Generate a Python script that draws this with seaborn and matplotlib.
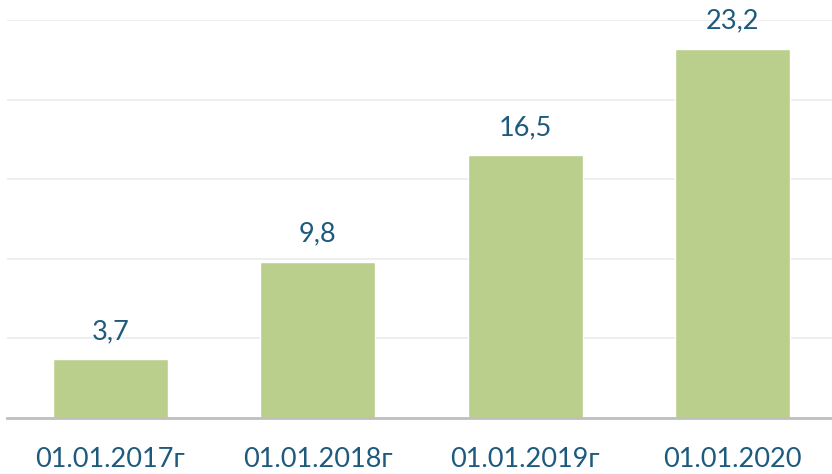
import matplotlib
matplotlib.use("Agg")
import matplotlib.pyplot as plt
import seaborn as sns
import pandas as pd

dates = ["01.01.2017г", "01.01.2018г", "01.01.2019г", "01.01.2020"]
values = [3.7, 9.8, 16.5, 23.2]
value_labels = ["3,7", "9,8", "16,5", "23,2"]

sns.set_style("white")
plt.rcParams["font.family"] = ["Lato", "DejaVu Sans"]

text_color = "#1D5A7E"
bar_color = "#BBCF8D"

df = pd.DataFrame({"date": dates, "value": values})

fig = plt.figure(figsize=(8.32, 4.74), dpi=100)
ax = fig.add_axes([0.008, 0.118, 0.997, 0.84])

sns.barplot(data=df, x="date", y="value", color=bar_color, width=0.555,
            saturation=1, ax=ax)

ax.set_ylim(0, 25)
ax.set_xlim(-0.5, 3.5)
ax.set_yticks([0, 5, 10, 15, 20, 25])
ax.yaxis.grid(True, color="#EBEBEB", linewidth=1.2)
ax.set_axisbelow(True)
ax.set_yticklabels([])
ax.tick_params(axis="y", length=0)
ax.tick_params(axis="x", length=0, pad=21, labelsize=19.5, labelcolor=text_color)
ax.set_xlabel("")
ax.set_ylabel("")

for s in ["top", "right", "left"]:
    ax.spines[s].set_visible(False)
ax.spines["bottom"].set_color("#BFBFBF")
ax.spines["bottom"].set_linewidth(2)

for i, (v, lab) in enumerate(zip(values, value_labels)):
    ax.annotate(lab, (i, v), xytext=(0, 11), textcoords="offset points",
                ha="center", va="bottom", fontsize=19.5, color=text_color)

fig.savefig("out.png", dpi=100)
